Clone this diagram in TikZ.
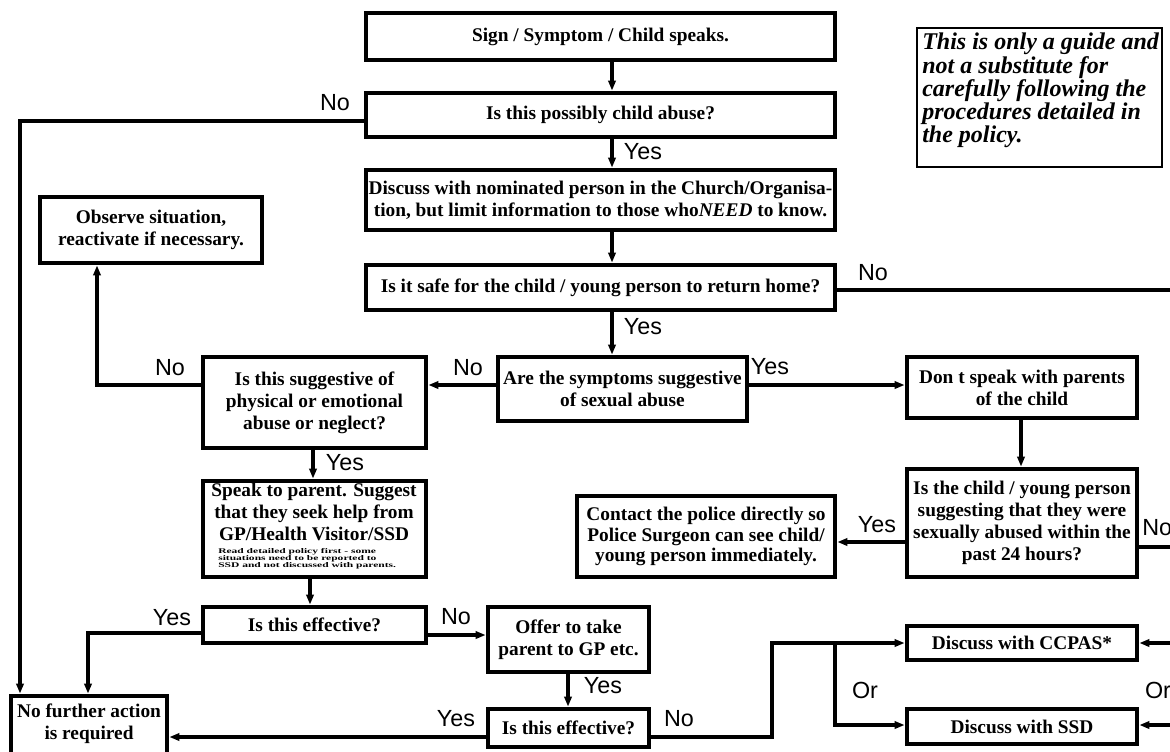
\documentclass[tikz,border=0pt]{standalone}
\usepackage{fontspec}
\usepackage{graphicx}
\setmainfont{Liberation Serif}
\newfontfamily\labfont{Liberation Sans}
\usetikzlibrary{arrows.meta}
\begin{document}
\begin{tikzpicture}[x=0.75pt,y=-0.75pt,
  bb/.style n args={4}{at={({(#1+#3)/2},{(#2+#4)/2})},
    minimum width={(#3-#1)*0.75pt},minimum height={(#4-#2)*0.75pt}},
  box/.style={draw,line width=3.6pt,inner sep=0pt,align=center,
    font=\bfseries\fontsize{14.5}{16.5}\selectfont},
  notebox/.style={draw,line width=1.6pt,inner sep=0pt},
  notetxt/.style={inner sep=0pt,align=left,anchor=north west,
    font=\bfseries\itshape\fontsize{18}{17.4}\selectfont},
  txt/.style={inner sep=0pt,align=center,font=\bfseries\fontsize{14.5}{16.3}\selectfont},
  small/.style={inner sep=0pt,anchor=west,font=\bfseries\fontsize{5.4}{5.3}\selectfont},
  ln/.style={line width=3.6pt},
  thin/.style={line width=2.6pt},
  tip/.style={-{Triangle[length=7.5pt,width=5.5pt]}},
  lbl/.style={inner sep=0pt,font=\labfont\fontsize{17.5}{17.5}\selectfont}]
\useasboundingbox (0,0) rectangle (1170,751);
\clip (0,0) rectangle (1170,751);
\fill[white] (0,0) rectangle (1170,751);

% helper coordinates
\coordinate (vx) at (612,0);

% boxes
\node[box,bb={366}{13}{835}{60}] (sign) {Sign / Symptom / Child speaks.};
\node[box,bb={366}{93}{835}{137}] (abuse) {Is this possibly child abuse?};
\node[box,bb={366}{170}{835}{230}] (discuss) {Discuss with nominated person in the Church/Organisa-\\tion, but limit information to those who\textit{NEED} to know.};
\node[box,bb={366}{265}{835}{310}] (safe) {Is it safe for the child / young person to return home?};
\node[box,bb={498}{357}{747}{421}] (symp) {Are the symptoms suggestive\\of sexual abuse};
\node[box,bb={203}{357}{426}{448}] (sugg) {Is this suggestive of\\physical or emotional\\abuse or neglect?};
\node[box,bb={40}{197}{262}{263}] (observe) {Observe situation,\\reactivate if necessary.};
\node[box,bb={203}{481}{426}{577}] (speak) {};
\node[txt] (speakt) at (314,512) {Speak to parent. Suggest\\that they seek help from\\GP/Health Visitor/SSD};
\node[small] (speaks) at (218,559) {\scalebox{1.6}[1]{\begin{tabular}{@{}l@{}}Read detailed policy first - some\\situations need to be reported to\\SSD and not discussed with parents.\end{tabular}}};
\node[box,bb={203}{607}{426}{643}] (eff1) {Is this effective?};
\node[box,bb={11}{696}{167}{770}] (nfa) {};
\node[txt] (nfat) at (89,724) {No further action\\is required};
\node[box,bb={488}{607}{649}{672}] (offer) {Offer to take\\parent to GP etc.};
\node[box,bb={488}{709}{649}{747}] (eff2) {Is this effective?};
\node[box,bb={907}{626}{1137}{660}] (ccpas) {Discuss with CCPAS*};
\node[box,bb={907}{709}{1137}{744}] (ssd) {Discuss with SSD};
\node[box,bb={907}{357}{1137}{418}] (dont) {Don t speak with parents\\of the child};
\node[box,bb={907}{469}{1137}{577}] (child) {Is the child / young person\\suggesting that they were\\sexually abused within the\\past 24 hours?};
\node[box,bb={577}{496}{835}{577},font=\bfseries\fontsize{14.5}{15.2}\selectfont] (police) {Contact the police directly so\\Police Surgeon can see child/\\young person immediately.};
\node[notebox,bb={917}{28}{1162}{167}] (note) {};
\node[notetxt] (notet) at (922,33) {This is only a guide and\\not a substitute for\\carefully following the\\procedures detailed in\\the policy.};

% connectors
\draw[ln,tip] (sign.south -| vx) -- (abuse.north -| vx);
\draw[ln,tip] (abuse.south -| vx) -- (discuss.north -| vx);
\draw[ln,tip] (discuss.south -| vx) -- (safe.north -| vx);
\draw[ln,tip] (safe.south -| vx) -- (symp.north -| vx);

\coordinate (a1) at (20,121);
\draw[ln,tip] (abuse.west |- a1) -- (a1) -- (nfa.north -| a1);

\coordinate (s1) at (1170,290);
\draw[ln] (safe.east |- s1) -- (s1);

\coordinate (m1) at (0,385);
\draw[thin,tip] (symp.west |- m1) -- (sugg.east |- m1);
\draw[thin,tip] (symp.east |- m1) -- (dont.west |- m1);

\coordinate (o1) at (97,385);
\draw[ln,tip] (sugg.west |- o1) -- (o1) -- (observe.south -| o1);

\coordinate (g1) at (313,0);
\draw[ln,tip] (sugg.south -| g1) -- (speak.north -| g1);
\coordinate (g2) at (310,0);
\draw[ln,tip] (speak.south -| g2) -- (eff1.north -| g2);

\coordinate (y1) at (88,633);
\draw[ln,tip] (eff1.west |- y1) -- (y1) -- (nfa.north -| y1);

\coordinate (n1) at (0,635);
\draw[thin,tip] (eff1.east |- n1) -- (offer.west |- n1);

\coordinate (g3) at (568,0);
\draw[ln,tip] (offer.south -| g3) -- (eff2.north -| g3);

\coordinate (b1) at (0,737);
\draw[ln,tip] (eff2.west |- b1) -- (nfa.east |- b1);

\coordinate (r1) at (772,737);
\coordinate (r2) at (772,643);
\coordinate (r3) at (835,643);
\coordinate (r4) at (835,725);
\draw[thin,tip] (eff2.east |- r1) -- (r1) -- (r2) -- (ccpas.west |- r2);
\draw[thin,tip] (r3) -- (r4) -- (ssd.west |- r4);

\coordinate (c1) at (1170,643);
\coordinate (c2) at (1170,725);
\draw[ln,tip] (c1) -- (ccpas.east |- c1);
\draw[ln,tip] (c2) -- (ssd.east |- c2);

\coordinate (d1) at (1021,0);
\draw[ln,tip] (dont.south -| d1) -- (child.north -| d1);

\coordinate (p1) at (0,542);
\draw[ln,tip] (child.west |- p1) -- (police.east |- p1);
\coordinate (p2) at (1170,547);
\draw[ln] (child.east |- p2) -- (p2);

% labels
\node[lbl] (l1) at (335,103) {No};
\node[lbl] (l2) at (643,152) {Yes};
\node[lbl] (l3) at (873,273) {No};
\node[lbl] (l4) at (643,327) {Yes};
\node[lbl] (l5) at (468,368) {No};
\node[lbl] (l6) at (770,367) {Yes};
\node[lbl] (l7) at (170,368) {No};
\node[lbl] (l8) at (345,463) {Yes};
\node[lbl] (l9) at (877,525) {Yes};
\node[lbl,anchor=west] (l10) at (1142,528) {No};
\node[lbl] (l11) at (172,618) {Yes};
\node[lbl] (l12) at (456,617) {No};
\node[lbl] (l13) at (603,686) {Yes};
\node[lbl] (l14) at (456,719) {Yes};
\node[lbl] (l15) at (679,719) {No};
\node[lbl] (l16) at (865,690) {Or};
\node[lbl] (l17) at (1158,690) {Or};
\end{tikzpicture}
\end{document}
